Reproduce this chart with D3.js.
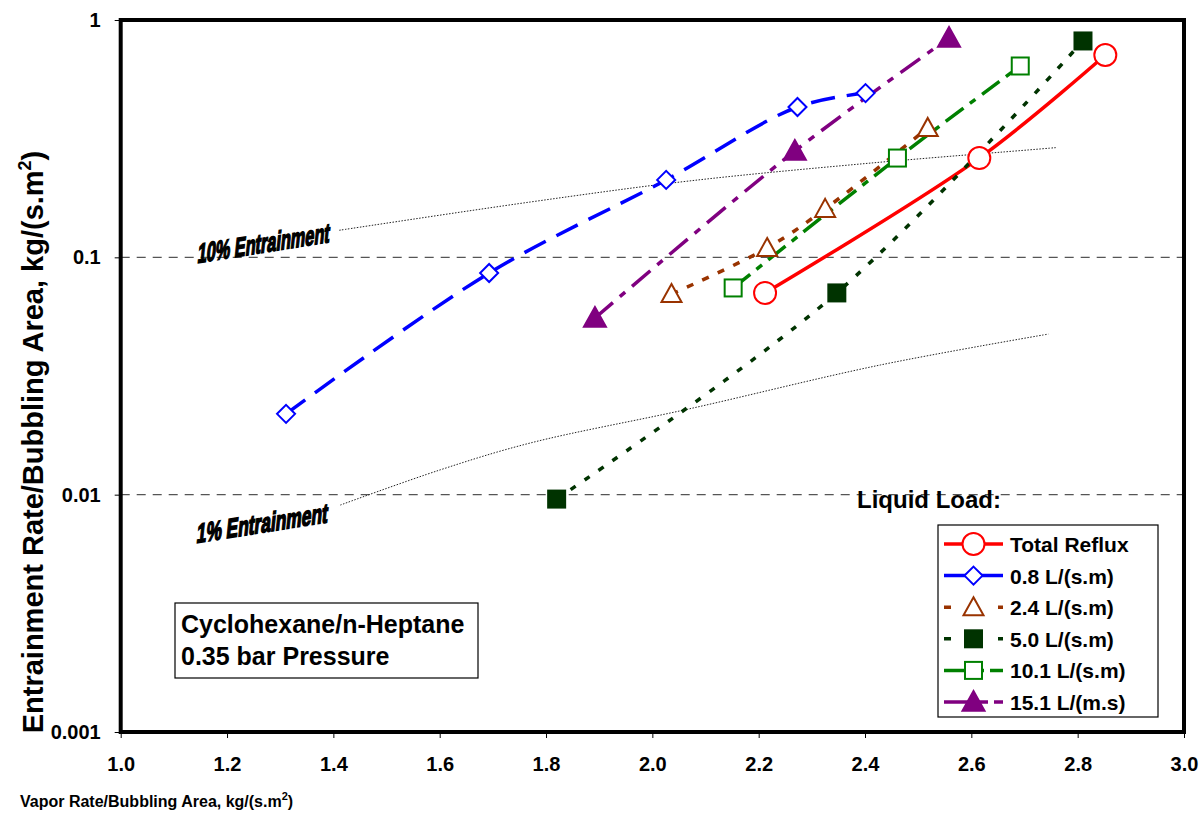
<!DOCTYPE html>
<html>
<head>
<meta charset="utf-8">
<script src="https://cdn.jsdelivr.net/npm/d3@7"></script>
<style>
  body { margin: 0; background: #fff; }
  svg { font-family: Arial, "Liberation Sans", sans-serif; }
</style>
</head>
<body>
<div id="chart"></div>
<script>
// data
var xTicks = [1.0, 1.2, 1.4, 1.6, 1.8, 2.0, 2.2, 2.4, 2.6, 2.8, 3.0];
var yTicks = [0.001, 0.01, 0.1, 1];
var yTickLabels = ["0.001", "0.01", "0.1", "1"];

var refluxX = [2.212, 2.615, 2.852];
var refluxY = [0.0708, 0.262, 0.712];
var l08X = [1.311, 1.693, 2.026, 2.273, 2.401];
var l08Y = [0.0219, 0.0859, 0.212, 0.430, 0.492];
var l24X = [2.036, 2.216, 2.325, 2.518];
var l24Y = [0.070, 0.1095, 0.160, 0.351];
var l50X = [1.820, 2.347, 2.810];
var l50Y = [0.00958, 0.0708, 0.816];
var l101X = [2.152, 2.461, 2.692];
var l101Y = [0.0743, 0.262, 0.640];
var l151X = [1.892, 2.268, 2.558];
var l151Y = [0.0555, 0.2805, 0.840];

// entrainment guide curves
var e10X = [1.411, 1.770, 2.071, 2.410, 2.720, 2.76];
var e10Y = [0.130, 0.171, 0.210, 0.2495, 0.285, 0.290];
var e1X = [1.413, 1.600, 1.770, 2.066, 2.429, 2.745];
var e1Y = [0.00904, 0.0127, 0.0165, 0.0229, 0.0352, 0.0475];

var legendNames = ["Total Reflux", "0.8 L/(s.m)", "2.4 L/(s.m)", "5.0 L/(s.m)", "10.1 L/(s.m)", "15.1 L/(m.s)"];

function zip(xs, ys) { return xs.map(function(v, i) { return {x: v, y: ys[i]}; }); }

var series = [
  {name: legendNames[0], data: zip(refluxX, refluxY), color: "#ff0000", dash: null, marker: "circle", fill: "#fff"},
  {name: legendNames[1], data: zip(l08X, l08Y), color: "#0000ff", dash: "24,12", marker: "diamond", fill: "#fff"},
  {name: legendNames[2], data: zip(l24X, l24Y), color: "#993300", dash: "7,10", marker: "triangle", fill: "#fff"},
  {name: legendNames[3], data: zip(l50X, l50Y), color: "#003300", dash: "6,11", marker: "square", fill: "#003300"},
  {name: legendNames[4], data: zip(l101X, l101Y), color: "#008000", dash: "22,8,7,8", marker: "square", fill: "#fff"},
  {name: legendNames[5], data: zip(l151X, l151Y), color: "#800080", dash: "24,9,7,9", marker: "triangle", fill: "#800080"}
];

var W = 1199, H = 814;
var mLeft = 120.7, mRight = 1184, mTop = 20, mBottom = 732;

var svg = d3.select("#chart").append("svg")
  .attr("width", W).attr("height", H);

var x = d3.scaleLinear().domain([1, 3]).range([mLeft, mRight]);
var y = d3.scaleLog().domain([0.001, 1]).range([mBottom, mTop]);

// dashed gridlines at 0.1 and 0.01
svg.selectAll(".grid").data([0.1, 0.01]).enter().append("line")
  .attr("x1", mLeft).attr("x2", mRight)
  .attr("y1", function(d) { return y(d); }).attr("y2", function(d) { return y(d); })
  .attr("stroke", "#555").attr("stroke-width", 1.2).attr("stroke-dasharray", "9,7");

// guide curves
var guide = d3.line().x(function(d) { return x(d.x); }).y(function(d) { return y(d.y); }).curve(d3.curveCatmullRom.alpha(0.5));
[zip(e10X, e10Y), zip(e1X, e1Y)].forEach(function(g) {
  svg.append("path").datum(g)
    .attr("fill", "none").attr("stroke", "#222").attr("stroke-width", 1)
    .attr("stroke-dasharray", "1.5,1.5").attr("d", guide);
});

// guide labels
function slantText(txt, px, py, len) {
  svg.append("text")
    .attr("transform", "translate(" + px + "," + py + ") skewY(-9) skewX(-6)")
    .attr("font-family", "Arial, 'Liberation Sans', sans-serif")
    .attr("font-weight", "bold")
    .attr("font-size", 27).attr("text-anchor", "start")
    .attr("stroke", "#000").attr("stroke-width", 1.6)
    .attr("textLength", len).attr("lengthAdjust", "spacingAndGlyphs")
    .text(txt);
}
slantText("10% Entrainment", 197, 263, 132);
slantText("1% Entrainment", 196, 543, 131);

// series lines
var line = d3.line().x(function(d) { return x(d.x); }).y(function(d) { return y(d.y); }).curve(d3.curveCatmullRom.alpha(0.5));

series.forEach(function(s) {
  svg.append("path").datum(s.data)
    .attr("fill", "none").attr("stroke", s.color).attr("stroke-width", 3.5)
    .attr("stroke-dasharray", s.dash)
    .attr("d", line);
});

function drawMarker(g, type, cx, cy, color, fill) {
  if (type === "circle") {
    g.append("circle").attr("cx", cx).attr("cy", cy).attr("r", 11)
      .attr("fill", fill).attr("stroke", color).attr("stroke-width", 2);
  } else if (type === "diamond") {
    var r = 9;
    g.append("path").attr("d", "M" + cx + "," + (cy - r) + "L" + (cx + r) + "," + cy + "L" + cx + "," + (cy + r) + "L" + (cx - r) + "," + cy + "Z")
      .attr("fill", fill).attr("stroke", color).attr("stroke-width", 2);
  } else if (type === "triangle") {
    var h = fill === "#fff" ? 10 : 11;
    g.append("path").attr("d", "M" + cx + "," + (cy - h) + "L" + (cx + h) + "," + (cy + h * 0.8) + "L" + (cx - h) + "," + (cy + h * 0.8) + "Z")
      .attr("fill", fill).attr("stroke", color).attr("stroke-width", 2);
  } else if (type === "square") {
    var a = 8.5;
    g.append("rect").attr("x", cx - a).attr("y", cy - a).attr("width", 2 * a).attr("height", 2 * a)
      .attr("fill", fill).attr("stroke", color).attr("stroke-width", 2);
  }
}

series.forEach(function(s) {
  var g = svg.append("g");
  s.data.forEach(function(d) {
    drawMarker(g, s.marker, x(d.x), y(d.y), s.color, s.fill);
  });
});

// frame
svg.append("rect").attr("x", mLeft).attr("y", mTop)
  .attr("width", mRight - mLeft).attr("height", mBottom - mTop)
  .attr("fill", "none").attr("stroke", "#000").attr("stroke-width", 4);

// axes
var xAxis = svg.append("g").attr("transform", "translate(0," + mBottom + ")")
  .call(d3.axisBottom(x).tickValues(xTicks).tickFormat(d3.format(".1f")).tickSize(6).tickPadding(19));
var yAxis = svg.append("g").attr("transform", "translate(" + mLeft + ",0)")
  .call(d3.axisLeft(y).tickValues(yTicks).tickFormat(function(d, i) { return yTickLabels[i]; }).tickSize(6).tickPadding(14));
[xAxis, yAxis].forEach(function(a) {
  a.select(".domain").remove();
  a.selectAll("text").attr("font-size", 20).attr("font-weight", "bold").attr("fill", "#000")
    .attr("font-family", "Arial, 'Liberation Sans', sans-serif");
  a.selectAll("line").attr("stroke", "#000").attr("stroke-width", 1);
});

// axis titles
var xt = svg.append("text").attr("x", 20).attr("y", 807)
  .attr("font-size", 16).attr("font-weight", "bold");
xt.append("tspan").text("Vapor Rate/Bubbling Area, kg/(s.m");
xt.append("tspan").attr("font-size", 11).attr("dy", -7).text("2");
xt.append("tspan").attr("dy", 7).text(")");

var yt = svg.append("text").attr("transform", "translate(43,442) rotate(-90)")
  .attr("text-anchor", "middle").attr("font-size", 29).attr("font-weight", "bold");
yt.append("tspan").text("Entrainment Rate/Bubbling Area, kg/(s.m");
yt.append("tspan").attr("font-size", 18).attr("dy", -12).text("2");
yt.append("tspan").attr("dy", 12).text(")");

// info box
svg.append("rect").attr("x", 175).attr("y", 603).attr("width", 303).attr("height", 75)
  .attr("fill", "#fff").attr("stroke", "#000").attr("stroke-width", 1.2);
svg.append("text").attr("x", 181).attr("y", 633).attr("font-size", 25).attr("font-weight", "bold").text("Cyclohexane/n-Heptane");
svg.append("text").attr("x", 181).attr("y", 665).attr("font-size", 25).attr("font-weight", "bold").text("0.35 bar Pressure");

// legend
svg.append("text").attr("x", 857).attr("y", 508).attr("font-size", 24).attr("font-weight", "bold").text("Liquid Load:");
var lg = svg.append("g");
lg.append("rect").attr("x", 938).attr("y", 525).attr("width", 220).attr("height", 192)
  .attr("fill", "#fff").attr("stroke", "#000").attr("stroke-width", 1.2);
var legendDash = [null, null, "7,20", "7,20", "24,6,10,6", "28,6,10,6"];
series.forEach(function(s, i) {
  var ly = 544 + i * 31.6;
  lg.append("line").attr("x1", 944).attr("x2", 1003).attr("y1", ly).attr("y2", ly)
    .attr("stroke", s.color).attr("stroke-width", 3.5).attr("stroke-dasharray", legendDash[i]);
  drawMarker(lg, s.marker, 973.5, ly, s.color, s.fill);
  lg.append("text").attr("x", 1010).attr("y", ly + 8).attr("font-size", 21).attr("font-weight", "bold").text(s.name);
});
</script>
</body>
</html>
